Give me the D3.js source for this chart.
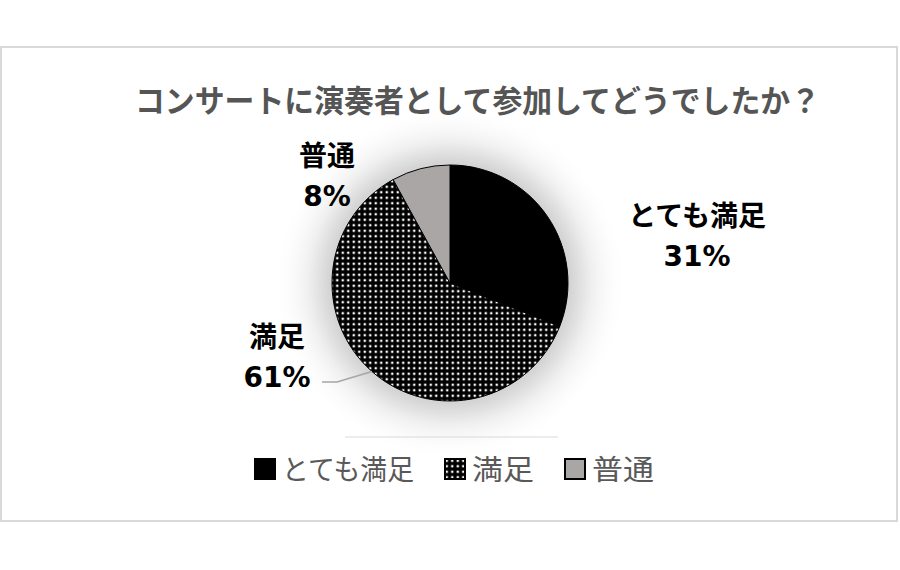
<!DOCTYPE html>
<html lang="ja">
<head>
<meta charset="UTF-8">
<title>コンサートに演奏者として参加してどうでしたか？</title>
<script src="https://d3js.org/d3.v7.min.js"></script>
<style>
  body { margin: 0; background: #fff; }
  text { font-family: "Noto Sans CJK JP", "Noto Sans", sans-serif; }
  text.num { font-family: "DejaVu Sans", "Noto Sans CJK JP", sans-serif; }
</style>
</head>
<body>
<div id="chart"></div>
<script>
const categories = ["とても満足", "満足", "普通"]
const values = [31, 61, 8]
const pctLabels = ["31%", "61%", "8%"]
const title = "コンサートに演奏者として参加してどうでしたか？"

const width = 900
const height = 570
const cx = 450, cy = 283, radius = 118

const svg = d3.select("#chart").append("svg")
    .attr("width", width)
    .attr("height", height)

const defs = svg.append("defs")
const dots = defs.append("pattern")
    .attr("id", "dots")
    .attr("patternUnits", "userSpaceOnUse")
    .attr("width", 5.5).attr("height", 5.5)
dots.append("rect").attr("width", 5.5).attr("height", 5.5).attr("fill", "#000")
dots.append("rect").attr("x", 1.6).attr("y", 1.6).attr("width", 2.3).attr("height", 2.3).attr("fill", "#fff")

const glow = defs.append("radialGradient").attr("id", "glow")
glow.append("stop").attr("offset", "0.68").attr("stop-color", "#d4d4d4")
glow.append("stop").attr("offset", "0.8").attr("stop-color", "#efefef")
glow.append("stop").attr("offset", "1").attr("stop-color", "#fff").attr("stop-opacity", 0)

// chart frame
svg.append("rect")
    .attr("x", 1).attr("y", 47)
    .attr("width", 896).attr("height", 474)
    .attr("fill", "#fff")
    .attr("stroke", "#d9d9d9")
    .attr("stroke-width", 2)

const fills = ["#000", "url(#dots)", "#aba6a6"]

const pie = d3.pie().sort(null).value(d => d)
const arcs = pie(values)
const arc = d3.arc().innerRadius(0).outerRadius(radius)

const g = svg.append("g").attr("transform", `translate(${cx},${cy})`)

g.append("circle")
    .attr("r", radius * 1.5)
    .attr("fill", "url(#glow)")

svg.append("text")
    .attr("x", 135).attr("y", 112)
    .attr("textLength", 685)
    .attr("lengthAdjust", "spacingAndGlyphs")
    .attr("font-size", 31)
    .attr("font-weight", "bold")
    .attr("fill", "#555")
    .text(title)

g.selectAll("path.slice")
    .data(arcs)
    .enter().append("path")
    .attr("class", "slice")
    .attr("d", arc)
    .attr("fill", (d, i) => fills[i])
    .attr("stroke", "#000")
    .attr("stroke-width", 1)

// data labels (offsets from the pie centre)
const labelPos = [[247, -57], [-173, 64], [-123, -117]]
const labels = g.selectAll("g.lbl")
    .data(arcs)
    .enter().append("g")
    .attr("class", "lbl")
    .attr("transform", (d, i) => `translate(${labelPos[i][0]},${labelPos[i][1]})`)
labels.append("text")
    .attr("text-anchor", "middle")
    .attr("font-size", 28)
    .attr("font-weight", "bold")
    .attr("fill", "#000")
    .text((d, i) => categories[i])
labels.append("text")
    .attr("class", "num")
    .attr("y", 40)
    .attr("text-anchor", "middle")
    .attr("font-size", 28)
    .attr("font-weight", "bold")
    .attr("fill", "#000")
    .text((d, i) => pctLabels[i])

// leader line for 満足
const mid = (arcs[1].startAngle + arcs[1].endAngle) / 2
const edge = [radius * Math.sin(mid), -radius * Math.cos(mid)]
g.append("path")
    .attr("d", d3.line()([edge, [-113, 99], [-128, 99]]))
    .attr("fill", "none")
    .attr("stroke", "#a6a6a6")
    .attr("stroke-width", 1.5)

// legend
svg.append("line")
    .attr("x1", 345).attr("x2", 558)
    .attr("y1", 437).attr("y2", 437)
    .attr("stroke", "#d9d9d9")
    .attr("stroke-width", 1)

const legendX = [254, 444, 564]
const legendW = [132, 62, 62]
const legend = svg.selectAll("g.leg")
    .data(categories)
    .enter().append("g")
    .attr("class", "leg")
    .attr("transform", (d, i) => `translate(${legendX[i]},458)`)
legend.append("rect")
    .attr("x", 1).attr("y", 1)
    .attr("width", 20).attr("height", 20)
    .attr("fill", (d, i) => fills[i])
    .attr("stroke", "#000")
    .attr("stroke-width", 2)
legend.append("text")
    .attr("x", 28).attr("y", 22)
    .attr("font-size", 28)
    .attr("textLength", (d, i) => legendW[i])
    .attr("lengthAdjust", "spacingAndGlyphs")
    .attr("fill", "#595959")
    .text(d => d)
</script>
</body>
</html>
